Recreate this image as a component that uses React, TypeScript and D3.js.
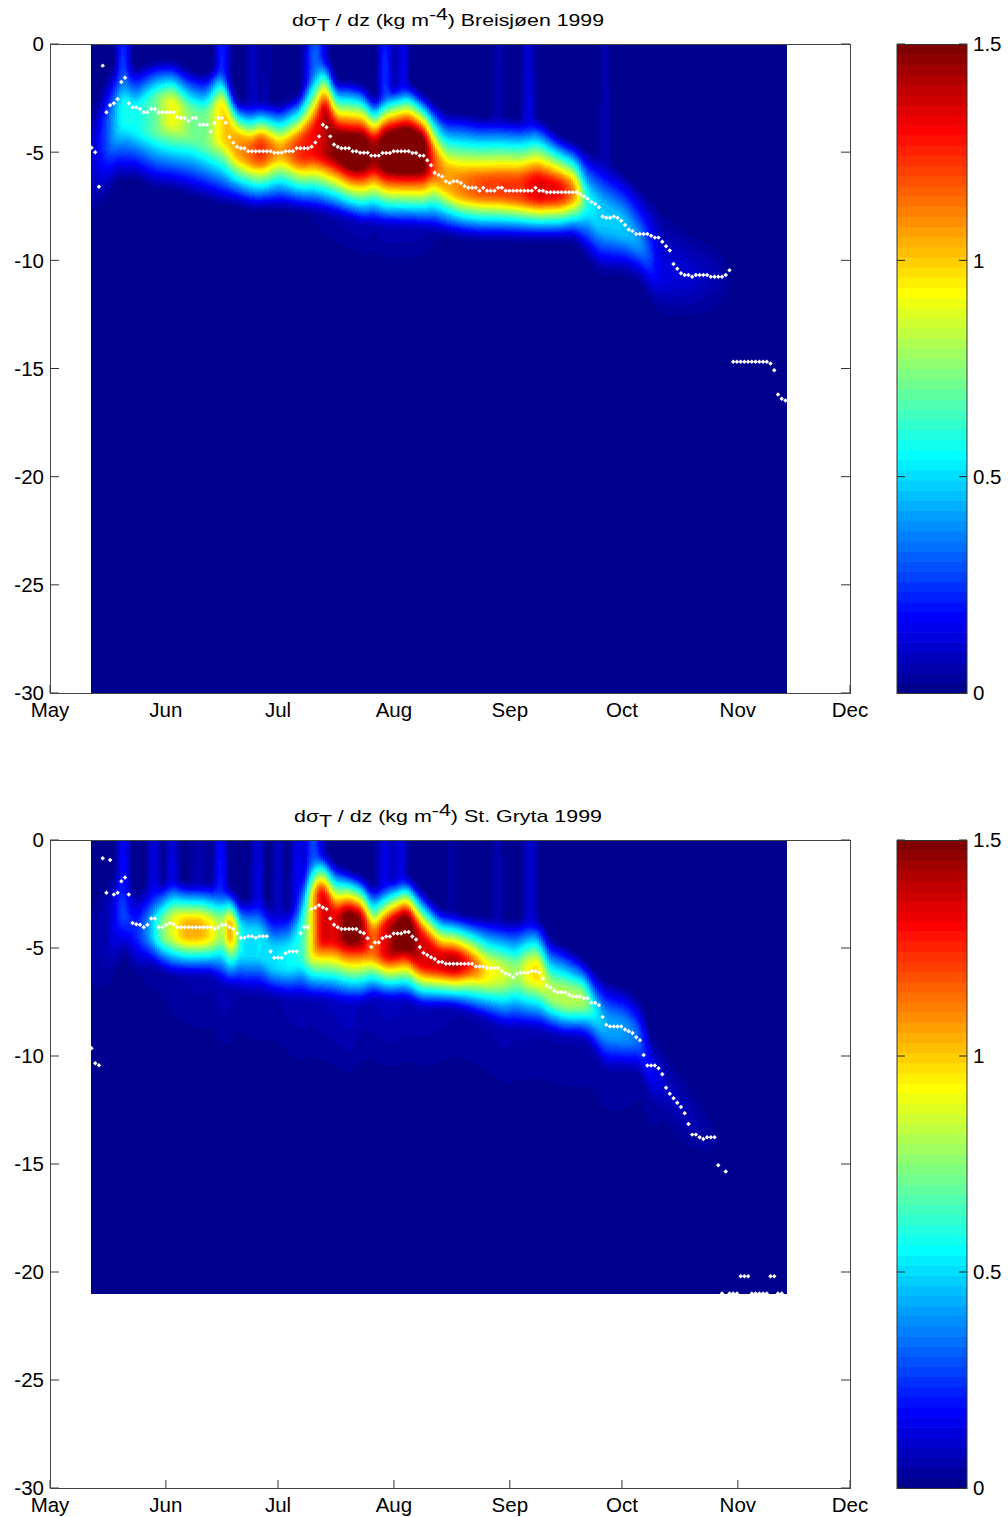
import React, { useEffect, useRef } from "react";
import * as d3 from "d3";

const monthLabels = ["May", "Jun", "Jul", "Aug", "Sep", "Oct", "Nov", "Dec"];
const monthDays = [0, 31, 61, 92, 123, 153, 184, 214];
const depthTicks = [0, -5, -10, -15, -20, -25, -30];
const barTicks = [0, 0.5, 1, 1.5];
const rep = (v: number, n: number) => Array.from({ length: n }, () => v);

// White dots: pycnocline depth (m) for each daily sample
const breisDots: (number | null)[] = [
  4.8, 5.0, 6.6, 1.0, 3.15, 2.83, 2.74, 2.54, 1.76, 1.56, 2.74, 2.92, 2.93, 3.0, 3.15, 3.15, 3.0, 3.0, 3.15, 3.15, 3.15, 3.15, 3.15,
  3.38, 3.42, 3.42, 3.56, 3.42, 3.42, 3.73, 3.73, 3.73, 4.05, 3.64, 3.42, 3.42, 3.64, 4.3, 4.56, 4.75, 4.82, 4.82,
  4.96, 4.96, 4.96, 4.96, 4.96, 4.96, 4.96, 5.03, 5.03, 5.03, 4.96, 4.96, 4.96, 4.82, 4.82, 4.82, 4.82, 4.75, 4.55, 4.27, 3.73, 3.85, 4.27, 4.65,
  4.75, 4.82, 4.82, 4.82, 4.96, 4.96, 5.03, 5.03, 5.03, 5.16, 5.16, 5.16, 5.04, 5.04, 5.04, 4.96, 4.96, 4.96, 4.96, 4.96, 5.04, 5.04, 5.16, 5.16,
  5.37, 5.6, 5.95, 6.05, 6.13, 6.35, 6.43, 6.35, 6.35, 6.43, 6.57, 6.64, 6.64, 6.64, 6.78, 6.64, 6.78, 6.78, 6.78, 6.64, 6.64,
  6.78, 6.78, 6.78, 6.78, 6.78, 6.78, 6.78, 6.78, 6.64, 6.78, 6.78, 6.85, 6.85, 6.85, 6.85, 6.85, 6.85, 6.85, 6.85, 6.85,
  6.95, 7.05, 7.15, 7.3, 7.4, 7.55, 7.97, 8.03, 8.03, 7.97, 8.03, 8.17, 8.37, 8.58, 8.65, 8.78, 8.78, 8.78, 8.78, 8.86, 8.95, 8.95, 9.14, 9.35, 9.55,
  10.17, 10.39, 10.6, 10.68, 10.68, 10.76, 10.68, 10.68, 10.68, 10.68, 10.76, 10.76, 10.76, 10.76, 10.68, 10.46,
  14.69, 14.69, 14.69, 14.69, 14.69, 14.69, 14.69, 14.69, 14.69, 14.69, 14.77, 15.08, 16.2, 16.4, 16.48,
];
const grytaDots: (number | null)[] = [
  9.64, 10.34, 10.43, 0.85, 2.44, 0.93, 2.52, 2.44, 1.91, 1.74, 2.52, 3.84, 3.9, 3.92, 4.04, 3.92, 3.63, 3.63, 4.04, 4.04, 3.92, 3.84, 3.9,
  4.04, 4.04, 4.04, 4.04, 4.04, 4.04, 4.04, 4.04, 4.04, 4.04, 4.12, 4.04, 3.92, 3.92, 4.04, 4.12, 4.32, 4.53, 4.53, 4.46, 4.46, 4.53, 4.46, 4.46, 4.46,
  5.16, 5.45, 5.45, 5.45, 5.24, 5.16, 5.16, 5.16, 4.32, 4.04, 4.04, 3.2, 3.13, 3.02, 3.13, 3.2, 3.63, 3.92, 4.04, 4.12, 4.12, 4.12, 4.12, 4.12,
  4.26, 4.32, 4.55, 4.95, 4.75, 4.75, 4.55, 4.47, 4.47, 4.33, 4.33, 4.33, 4.26, 4.26, 4.47, 4.61, 4.95, 5.23, 5.32, 5.43, 5.51, 5.65, 5.65,
  5.73, 5.73, 5.73, 5.73, 5.73, 5.73, 5.73, 5.73, 5.86, 5.86, 5.86, 5.93, 5.93, 5.93, 5.93, 6.07, 6.18, 6.24, 6.35, 6.2, 6.14, 6.14, 6.14, 6.07, 6.07, 6.14,
  6.42, 6.74, 6.83, 6.97, 7.05, 7.05, 7.05, 7.16, 7.25, 7.25, 7.25, 7.33, 7.33, 7.53, 7.53, 7.65, 8.2, 8.55, 8.63, 8.63, 8.63, 8.63, 8.77, 8.85, 8.94, 9.13, 9.27,
  9.95, 10.44, 10.44, 10.44, 10.57, 10.85, 11.47, 11.75, 11.96, 12.16, 12.36, 12.65, 13.15, 13.64, 13.64, 13.76, 13.84, 13.76, 13.76, 13.76,
  15.06, 21, 15.35, 21, 21, 21, 20.2, 20.2, 20.2, 21, 21, 21, 21, 21, 20.2, 20.2, 21, 21,
];

// Field read at key dates (days after 1 May): peak value, core top/bottom, edges where it fades out (m), deep haze
const breisDay = [11, 14.7, 18.2, 19.5, 22.7, 28.1, 32.6, 37.5, 41.5, 46, 49.5, 53.5, 56.2, 61.5, 66.9, 70.9, 73.6, 76.2, 80.3, 83.8, 86.6, 89.6, 95.8, 100.3, 102.2, 105.7, 109.7, 115, 120.4, 125.7, 130.3, 136.4, 140.4, 143.1, 147.1, 153.8, 157.8, 163.2, 171.2, 180.6, 181.9, 197.2];
const breisPeak = [0.08, 0.25, 0.5, 0.6, 0.55, 0.7, 0.95, 0.72, 0.7, 1.0, 1.05, 1.15, 1.25, 1.05, 1.25, 1.3, 1.42, 1.5, 1.62, 1.56, 1.42, 1.55, 1.6, 1.55, 1.2, 1.05, 1.1, 1.2, 1.22, 1.22, 1.35, 1.3, 1.1, 0.6, 0.47, 0.47, 0.4, 0.13, 0.11, 0.04, 0, 0];
const breisCoreTop = [4.5, 3.5, 2.8, 2.6, 2.9, 2.4, 2.6, 3.0, 3.2, 2.6, 4.1, 4.6, 4.4, 4.7, 4.4, 3.8, 2.7, 4.1, 4.4, 4.3, 4.6, 4.2, 4.0, 4.4, 4.9, 5.7, 6.0, 6.2, 6.2, 6.2, 6.2, 6.4, 6.5, 6.9, 7.3, 8.1, 8.9, 10, 10.5, 10.5, 10.5, 10.5];
const breisCoreBot = [6, 5, 4.2, 3.6, 4.1, 4.1, 3.65, 4.4, 4.8, 4.4, 5.2, 5.4, 5.4, 5.2, 5.4, 5.2, 5.2, 5.3, 5.6, 5.7, 5.6, 5.8, 5.8, 5.8, 6.0, 6.75, 7.05, 7.05, 7.05, 7.2, 7.2, 7.2, 7.15, 7.5, 8.6, 8.9, 9.5, 11, 11, 11, 11, 11];
const breisTop = [3.5, 2.2, 1.2, 1.0, 1.7, 1.35, 1.35, 1.8, 2, 1.3, 3.2, 3.4, 3.3, 3.4, 2.9, 1.0, 1.0, 2.3, 2.3, 2.5, 3.2, 2.7, 2.4, 3.05, 3.3, 3.8, 3.8, 4, 4, 4.1, 4, 4.9, 5.2, 5.5, 5.8, 6.6, 7.3, 8, 9, 9.5, 9.5, 9.5];
const breisBot = [8, 7, 5.7, 6, 5.8, 6.3, 6.3, 6.6, 6.8, 7, 7, 7.2, 7.2, 7.2, 7.3, 7.4, 7.5, 7.6, 7.8, 8, 8, 8.1, 8.1, 8.2, 8.3, 8.4, 8.5, 8.6, 8.6, 8.6, 8.6, 8.6, 8.6, 9.4, 10.2, 10.2, 10.5, 12.3, 12.5, 12.5, 12.5, 12.5];
const breisDeep = [...rep(0.01, 15), 0.03, 0.04, 0.05, 0.06, 0.07, 0.05, 0.07, 0.07, 0.05, 0.03, ...rep(0.02, 17)];
const grytaDay = [11, 16.1, 19.3, 22.7, 26.8, 29.4, 32.6, 36.1, 40.1, 43.3, 46, 48.7, 49.8, 51.6, 56.2, 59.4, 64.2, 67.4, 69.6, 72.8, 76.2, 79.7, 83.5, 86.1, 90.4, 95.5, 99, 104.3, 108.3, 112.4, 116.4, 121.7, 124.4, 128.4, 131.1, 133.2, 137.8, 143.1, 145, 148.5, 153.8, 157.8, 160.5, 164.5, 171.2, 177.9, 181.9, 197.2];
const grytaPeak = [0.03, 0.08, 0.3, 0.2, 0.42, 0.7, 0.88, 1.05, 1.05, 0.95, 0.72, 1.25, 0.7, 0.5, 0.52, 0.5, 0.55, 0.6, 0.9, 1.4, 1.3, 1.58, 1.45, 1.1, 1.4, 1.6, 1.35, 1.35, 1.45, 1.25, 0.95, 0.85, 0.75, 0.95, 1.0, 0.8, 0.82, 0.8, 0.6, 0.42, 0.4, 0.32, 0.2, 0.1, 0.07, 0.03, 0, 0];
const grytaCoreTop = [4, 3, 3, 4, 3.7, 3.7, 3.5, 3.7, 3.7, 3.8, 3.6, 3.8, 4, 4, 4.2, 5, 5, 3.9, 2.5, 2.3, 3.4, 3.4, 3.5, 4.3, 3.85, 3.55, 4.3, 5.25, 5.4, 5.55, 5.7, 5.85, 5.85, 5.7, 5.85, 6.6, 6.9, 7.1, 7.6, 8.2, 8.4, 8.9, 10.8, 11.5, 13, 14, 14, 14];
const grytaCoreBot = [6, 5, 3.5, 4.5, 4.6, 4.6, 4.6, 4.6, 4.6, 4.6, 4.6, 4.6, 4.8, 5.5, 5.4, 6, 6, 5.6, 5.5, 4.6, 4.8, 4.6, 4.8, 5.4, 5.4, 4.9, 5.85, 6, 6, 6, 6.5, 6.6, 6.6, 6.5, 6.5, 7.4, 7.7, 7.7, 8, 9.1, 9.3, 9.5, 10.8, 11.5, 13, 14, 14, 14];
const grytaTop = [3, 2, 1.5, 3, 2.5, 2.6, 2.3, 2.6, 2.6, 2.6, 2.6, 2.9, 3.2, 3.4, 3.1, 3.9, 3.7, 2.4, 0.9, 1.1, 1.7, 2, 2.3, 2.8, 2.5, 2.25, 2.9, 3.85, 4, 4.15, 4.2, 4.3, 4.3, 4.15, 4.3, 5.1, 5.5, 6.2, 6.6, 7.1, 7.4, 8, 9.5, 10, 11.5, 12.5, 12.5, 12.5];
const grytaBot = [8, 7, 4.7, 6, 5.5, 5.7, 5.9, 5.9, 5.9, 6, 6.5, 6.5, 6.6, 6.8, 6.8, 6.95, 7.1, 7.1, 7.1, 7.1, 7.2, 7.3, 7.3, 7, 7.1, 7.1, 7.4, 7.4, 7.4, 7.7, 8, 8.5, 8.5, 8.5, 8.5, 8.6, 8.8, 8.85, 9.4, 10.4, 10.4, 10.5, 12, 13, 14.5, 15, 15, 15];
const grytaDeep = [0.01, 0.01, 0.01, 0.02, 0.03, 0.03, 0.04, 0.05, 0.06, 0.05, 0.07, 0.06, 0.04, 0.04, 0.05, 0.04, 0.06, 0.07, 0.06, 0.07, 0.08, 0.1, 0.06, 0.07, 0.09, 0.07, 0.07, 0.06, 0.05, 0.05, 0.05, 0.06, 0.05, 0.05, 0.05, 0.05, 0.05, 0.05, 0.04, 0.04, 0.04, 0.03, 0.03, 0.02, 0.02, 0.01, 0.01, 0.01];

// Thin bright streaks rising from the surface: day, value, half-width in days
const breisStreakDay = [19.5, 46, 54, 57.5, 70.9, 89.6, 94.2, 119.8, 127.9, 148.5];
const breisStreakVal = [0.45, 0.38, 0.18, 0.1, 0.45, 0.42, 0.3, 0.12, 0.22, 0.1];
const breisStreakWid = [1.2, 1.3, 1, 1, 2.4, 1.2, 1, 1, 1.2, 1.2];
const grytaStreakDay = [19.5, 27.6, 32.6, 38.8, 40.9, 45.5, 55.4, 61, 66, 70.4, 88.3, 90, 93.6, 107.5, 119.6, 128.4];
const grytaStreakVal = [0.33, 0.25, 0.25, 0.12, 0.1, 0.35, 0.25, 0.15, 0.3, 0.4, 0.2, 0.28, 0.28, 0.08, 0.14, 0.18];
const grytaStreakWid = [1.1, 1.1, 1.1, 0.8, 0.8, 1.2, 1, 1.2, 1, 2.2, 0.7, 0.8, 1.1, 1, 0.8, 1.4];

const panels = [
  { id: "a", top: 44, bottom: 693, titleY: 25.5, station: "Breisjøen 1999", maxDepth: 30, dots: breisDots, day: breisDay, peak: breisPeak, coreTop: breisCoreTop, coreBot: breisCoreBot, edgeTop: breisTop, edgeBot: breisBot, deep: breisDeep, deepReach: 2, sDay: breisStreakDay, sVal: breisStreakVal, sWid: breisStreakWid },
  { id: "b", top: 840, bottom: 1488, titleY: 821.5, station: "St. Gryta 1999", maxDepth: 21, dots: grytaDots, day: grytaDay, peak: grytaPeak, coreTop: grytaCoreTop, coreBot: grytaCoreBot, edgeTop: grytaTop, edgeBot: grytaBot, deep: grytaDeep, deepReach: 4, sDay: grytaStreakDay, sVal: grytaStreakVal, sWid: grytaStreakWid },
];

const FONT = "'Liberation Sans', Arial, sans-serif";
const x = d3.scaleLinear().domain([0, 214]).range([50, 850]);
const dayStart = 11, dayEnd = 197.2;
const topSoft = 0.6, botSoft = 0.45;
const jet = d3
  .scaleLinear<string>()
  .domain([0, 7, 23, 39, 55, 63].map((i) => i / 63))
  .range(["#00008f", "#0000ff", "#00ffff", "#ffff00", "#ff0000", "#800000"]);
const level = (v: number) => Math.max(0, Math.min(63, Math.floor((v / 1.5) * 64)));
const levelColor = (l: number) => jet(l / 63);

type Col = { peak: number; ct: number; cb: number; et: number; eb: number; deep: number; streak: number; reach: number };

function columnAt(p: (typeof panels)[number], lerp: Record<string, (d: number) => number>, day: number): Col {
  let streak = 0;
  p.sDay.forEach((sd, i) => {
    const g = Math.exp(-Math.pow((day - sd) / p.sWid[i], 2));
    streak = Math.max(streak, p.sVal[i] * g);
  });
  return {
    peak: lerp.peak(day), ct: lerp.coreTop(day), cb: lerp.coreBot(day),
    et: Math.max(0, lerp.edgeTop(day) - topSoft), eb: lerp.edgeBot(day) + botSoft,
    deep: lerp.deep(day), streak, reach: p.deepReach,
  };
}

function valueAt(c: Col, depth: number) {
  let v = 0;
  if (depth < c.ct) {
    const t = Math.max(0, (depth - c.et) / Math.max(0.01, c.ct - c.et));
    v = c.peak * t;
    v = Math.max(v, c.streak * (0.75 + (0.25 * depth) / Math.max(c.ct, 0.1)));
  } else if (depth <= c.cb) {
    v = c.peak;
  } else {
    const t = Math.max(0, (c.eb - depth) / Math.max(0.01, c.eb - c.cb));
    v = c.peak * Math.pow(t, 1.1);
    const u = Math.max(0, Math.min(1, (c.eb + c.reach - depth) / c.reach));
    v = Math.max(v, c.deep * u);
  }
  return v;
}

export default function App() {
  const ref = useRef<SVGSVGElement>(null);
  useEffect(() => {
    const svg = d3.select(ref.current);
    panels.forEach((p) => {
      const y = d3.scaleLinear().domain([0, 30]).range([p.top, p.bottom]);
      const lerpOf = (arr: number[]) => d3.scaleLinear().domain(p.day).range(arr).clamp(true);
      const lerp = { peak: lerpOf(p.peak), coreTop: lerpOf(p.coreTop), coreBot: lerpOf(p.coreBot), edgeTop: lerpOf(p.edgeTop), edgeBot: lerpOf(p.edgeBot), deep: lerpOf(p.deep) };
      const cells: { x: number; y: number; w: number; h: number; l: number }[] = [];
      const x0 = Math.round(x(dayStart)), x1 = Math.round(x(dayEnd));
      const y0 = Math.round(y(0)), y1 = Math.round(y(p.maxDepth));
      const offsets = [-1.2, -0.6, 0, 0.6, 1.2];
      const depthOffsets = [-0.2, 0, 0.2];
      for (let px = x0; px < x1; px += 2) {
        const day = x.invert(px + 1);
        const cols = offsets.map((o) => columnAt(p, lerp, day + o));
        let start = y0, cur = -1;
        for (let py = y0; py <= y1; py++) {
          let l = -2;
          if (py < y1) {
            const depth = y.invert(py + 0.5);
            let sum = 0;
            for (const c of cols) for (const o of depthOffsets) sum += valueAt(c, Math.max(0, depth + o));
            l = level(sum / (cols.length * depthOffsets.length));
          }
          if (l !== cur) {
            if (cur > 0) cells.push({ x: px, y: start, w: Math.min(2, x1 - px), h: py - start, l: cur });
            cur = l;
            start = py;
          }
        }
      }
      const g = svg.select(`#field-${p.id}`);
      g.selectAll("rect.base").data([0]).join("rect").attr("class", "base").attr("x", x0).attr("y", y0).attr("width", x1 - x0).attr("height", y1 - y0).attr("fill", levelColor(0));
      g.selectAll("rect.cell").data(cells).join("rect").attr("class", "cell").attr("x", (d) => d.x).attr("y", (d) => d.y).attr("width", (d) => d.w).attr("height", (d) => d.h).attr("fill", (d) => levelColor(d.l));
      const pts = p.dots.map((d, i) => ({ d, i })).filter((o) => o.d !== null);
      const sym = d3.symbol(d3.symbolSquare).size(10)();
      svg.select(`#dots-${p.id}`).selectAll("path").data(pts).join("path").attr("d", sym).attr("fill", "#fff").attr("transform", (o) => `translate(${x(11.1 + o.i * 0.998)},${y(o.d as number)}) rotate(45)`);
    });
  }, []);

  return (
    <svg ref={ref} width={1008} height={1517} style={{ position: "absolute", left: 0, top: 0, background: "#fff" }} fontFamily={FONT} fill="#000">
      {panels.map((p) => {
        const y = d3.scaleLinear().domain([0, -30]).range([p.top, p.bottom]);
        const bar = d3.scaleLinear().domain([0, 1.5]).range([p.bottom, p.top]);
        const bands = d3.range(64);
        return (
          <g key={p.id}>
            <text x={448} y={p.titleY} textAnchor="middle" fontSize={17} textLength={p.id === "a" ? 312 : 308} lengthAdjust="spacingAndGlyphs">
              dσ<tspan dy={5}>T</tspan>
              <tspan dy={-5}> / dz (kg m</tspan>
              <tspan dy={-6}>-4</tspan>
              <tspan dy={6}>) {p.station}</tspan>
            </text>
            {depthTicks.map((t) => (
              <g key={t}>
                <line x1={50} x2={59} y1={y(t)} y2={y(t)} stroke="#333" />
                <line x1={841} x2={850} y1={y(t)} y2={y(t)} stroke="#333" />
                <text x={44} y={y(t)} dy="0.36em" textAnchor="end" fontSize={20.5}>{t}</text>
              </g>
            ))}
            {monthDays.map((m, i) => (
              <g key={m}>
                <line x1={x(m)} x2={x(m)} y1={p.bottom} y2={p.bottom - 8} stroke="#333" />
                <text x={x(m)} y={p.bottom + 16.5} dy="0.36em" textAnchor="middle" fontSize={20.5}>{monthLabels[i]}</text>
              </g>
            ))}
            <g id={`field-${p.id}`} shapeRendering="crispEdges" />
            <g id={`dots-${p.id}`} />
            <rect x={50.5} y={p.top + 0.5} width={800} height={p.bottom - p.top} fill="none" stroke="#444" />
            {bands.map((b) => (
              <rect key={b} x={897} width={70} y={bar((1.5 * (b + 1)) / 64)} height={bar(0) - bar(1.5 / 64) + 0.6} fill={levelColor(b)} />
            ))}
            {barTicks.map((t) => (
              <g key={t}>
                <line x1={897} x2={905} y1={bar(t)} y2={bar(t)} stroke="#222" />
                <line x1={959} x2={967} y1={bar(t)} y2={bar(t)} stroke="#222" />
                <text x={973} y={bar(t)} dy="0.36em" fontSize={20.5}>{t}</text>
              </g>
            ))}
            <rect x={897} y={p.top + 0.5} width={70} height={p.bottom - p.top} fill="none" stroke="#333" />
          </g>
        );
      })}
    </svg>
  );
}
